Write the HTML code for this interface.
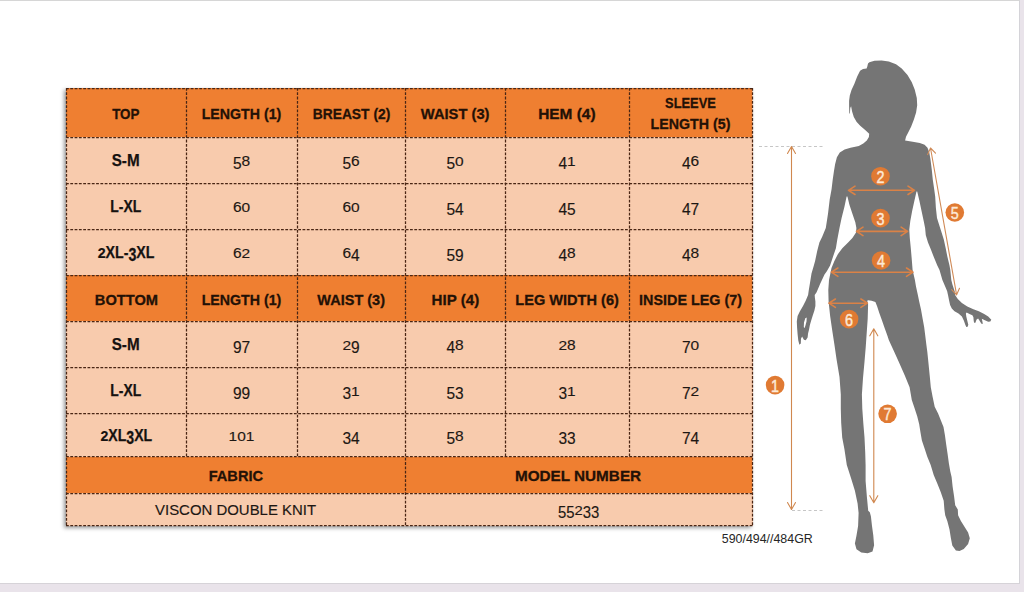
<!DOCTYPE html>
<html><head><meta charset="utf-8"><style>
html,body{margin:0;padding:0;}
body{width:1024px;height:592px;position:relative;overflow:hidden;background:#e9e3ea;font-family:"Liberation Sans",sans-serif;}
.page{position:absolute;left:0;top:0;width:1019px;height:582px;background:#fff;border-top:1px solid #d6d6d6;border-right:1px solid #d4d3d8;border-bottom:1px solid #d6d3d8;box-sizing:content-box;top:-0px;}
.shadow{position:absolute;left:66px;top:88px;width:687px;height:438px;box-shadow:-2px 2px 4px rgba(0,0,0,0.4);background:#f8cbad;}
.c{position:absolute;display:flex;align-items:center;justify-content:center;text-align:center;box-sizing:border-box;}
.c span{display:block;position:relative;top:1px;}
.c span.nos{top:0;}
.c b.ln{display:block;font-weight:bold;}
.c i{font-style:normal;display:inline-block;line-height:20px;}
.n i.dx{transform-origin:50% 15.4px;transform:scaleY(0.8);}
.n i.dd{transform-origin:50% 15.4px;transform:translateY(3.5px) scaleY(1.1);}
.lb i.dx{transform-origin:50% 15.6px;transform:scaleY(0.87);}
.lb i.dd{transform-origin:50% 15.6px;transform:translateY(3.5px) scaleY(1.1);}
.h{font-weight:bold;font-size:15.5px;color:#231106;line-height:21px;-webkit-text-stroke:0.3px #231106;}
.lb{font-weight:bold;font-size:16px;color:#161210;-webkit-text-stroke:0.25px #161210;}
.n{font-size:15.5px;color:#1d1713;-webkit-text-stroke:0.15px #1d1713;}
.v{font-size:15.5px;color:#1d1713;-webkit-text-stroke:0.15px #1d1713;}
.code{position:absolute;left:721.8px;top:531.8px;font-size:12.4px;color:#262626;white-space:nowrap;}
svg{position:absolute;left:0;top:0;}
svg text{font-family:"Liberation Sans",sans-serif;font-size:16.5px;fill:#fde9d6;stroke:#fde9d6;stroke-width:0.45px;}
</style></head><body>
<div class="page"></div>
<div class="shadow"></div>
<div class="c h" style="left:66px;top:88px;width:120px;height:49px;background:#EF7F31"><span style="transform:scaleX(0.862)">TOP</span></div><div class="c h" style="left:186px;top:88px;width:111px;height:49px;background:#EF7F31"><span style="transform:scaleX(0.915)">LENGTH (1)</span></div><div class="c h" style="left:297px;top:88px;width:108px;height:49px;background:#EF7F31"><span style="transform:scaleX(0.892)">BREAST (2)</span></div><div class="c h" style="left:405px;top:88px;width:100px;height:49px;background:#EF7F31"><span style="transform:scaleX(0.950)">WAIST (3)</span></div><div class="c h" style="left:505px;top:88px;width:124px;height:49px;background:#EF7F31"><span style="transform:scaleX(0.995)">HEM (4)</span></div><div class="c h" style="left:629px;top:88px;width:123px;height:49px;background:#EF7F31"><span class="nos"><b class="ln" style="transform:scaleX(0.83)">SLEEVE</b><b class="ln" style="transform:scaleX(0.918)">LENGTH (5)</b></span></div><div class="c lb" style="left:66px;top:137px;width:120px;height:46px;background:#F8CBAD"><span style="transform:scaleX(0.950)">S-M</span></div><div class="c n" style="left:186px;top:137px;width:111px;height:46px;background:#F8CBAD"><span><i class="dd">5</i>8</span></div><div class="c n" style="left:297px;top:137px;width:108px;height:46px;background:#F8CBAD"><span><i class="dd">5</i>6</span></div><div class="c n" style="left:405px;top:137px;width:100px;height:46px;background:#F8CBAD"><span><i class="dd">5</i><i class="dx">0</i></span></div><div class="c n" style="left:505px;top:137px;width:124px;height:46px;background:#F8CBAD"><span><i class="dd">4</i><i class="dx">1</i></span></div><div class="c n" style="left:629px;top:137px;width:123px;height:46px;background:#F8CBAD"><span><i class="dd">4</i>6</span></div><div class="c lb" style="left:66px;top:183px;width:120px;height:46px;background:#F8CBAD"><span style="transform:scaleX(0.868)">L-XL</span></div><div class="c n" style="left:186px;top:183px;width:111px;height:46px;background:#F8CBAD"><span>6<i class="dx">0</i></span></div><div class="c n" style="left:297px;top:183px;width:108px;height:46px;background:#F8CBAD"><span>6<i class="dx">0</i></span></div><div class="c n" style="left:405px;top:183px;width:100px;height:46px;background:#F8CBAD"><span><i class="dd">5</i><i class="dd">4</i></span></div><div class="c n" style="left:505px;top:183px;width:124px;height:46px;background:#F8CBAD"><span><i class="dd">4</i><i class="dd">5</i></span></div><div class="c n" style="left:629px;top:183px;width:123px;height:46px;background:#F8CBAD"><span><i class="dd">4</i><i class="dd">7</i></span></div><div class="c lb" style="left:66px;top:229px;width:120px;height:46px;background:#F8CBAD"><span style="transform:scaleX(0.886)"><i class="dx">2</i>XL-<i class="dd">3</i>XL</span></div><div class="c n" style="left:186px;top:229px;width:111px;height:46px;background:#F8CBAD"><span>6<i class="dx">2</i></span></div><div class="c n" style="left:297px;top:229px;width:108px;height:46px;background:#F8CBAD"><span>6<i class="dd">4</i></span></div><div class="c n" style="left:405px;top:229px;width:100px;height:46px;background:#F8CBAD"><span><i class="dd">5</i><i class="dd">9</i></span></div><div class="c n" style="left:505px;top:229px;width:124px;height:46px;background:#F8CBAD"><span><i class="dd">4</i>8</span></div><div class="c n" style="left:629px;top:229px;width:123px;height:46px;background:#F8CBAD"><span><i class="dd">4</i>8</span></div><div class="c h" style="left:66px;top:275px;width:120px;height:46px;background:#EF7F31"><span style="transform:scaleX(0.945)">BOTTOM</span></div><div class="c h" style="left:186px;top:275px;width:111px;height:46px;background:#EF7F31"><span style="transform:scaleX(0.916)">LENGTH (1)</span></div><div class="c h" style="left:297px;top:275px;width:108px;height:46px;background:#EF7F31"><span style="transform:scaleX(0.936)">WAIST (3)</span></div><div class="c h" style="left:405px;top:275px;width:100px;height:46px;background:#EF7F31"><span style="transform:scaleX(0.975)">HIP (4)</span></div><div class="c h" style="left:505px;top:275px;width:124px;height:46px;background:#EF7F31"><span style="transform:scaleX(0.939)">LEG WIDTH (6)</span></div><div class="c h" style="left:629px;top:275px;width:123px;height:46px;background:#EF7F31"><span style="transform:scaleX(0.926)">INSIDE LEG (7)</span></div><div class="c lb" style="left:66px;top:321px;width:120px;height:46px;background:#F8CBAD"><span style="transform:scaleX(0.950)">S-M</span></div><div class="c n" style="left:186px;top:321px;width:111px;height:46px;background:#F8CBAD"><span><i class="dd">9</i><i class="dd">7</i></span></div><div class="c n" style="left:297px;top:321px;width:108px;height:46px;background:#F8CBAD"><span><i class="dx">2</i><i class="dd">9</i></span></div><div class="c n" style="left:405px;top:321px;width:100px;height:46px;background:#F8CBAD"><span><i class="dd">4</i>8</span></div><div class="c n" style="left:505px;top:321px;width:124px;height:46px;background:#F8CBAD"><span><i class="dx">2</i>8</span></div><div class="c n" style="left:629px;top:321px;width:123px;height:46px;background:#F8CBAD"><span><i class="dd">7</i><i class="dx">0</i></span></div><div class="c lb" style="left:66px;top:367px;width:120px;height:46px;background:#F8CBAD"><span style="transform:scaleX(0.868)">L-XL</span></div><div class="c n" style="left:186px;top:367px;width:111px;height:46px;background:#F8CBAD"><span><i class="dd">9</i><i class="dd">9</i></span></div><div class="c n" style="left:297px;top:367px;width:108px;height:46px;background:#F8CBAD"><span><i class="dd">3</i><i class="dx">1</i></span></div><div class="c n" style="left:405px;top:367px;width:100px;height:46px;background:#F8CBAD"><span><i class="dd">5</i><i class="dd">3</i></span></div><div class="c n" style="left:505px;top:367px;width:124px;height:46px;background:#F8CBAD"><span><i class="dd">3</i><i class="dx">1</i></span></div><div class="c n" style="left:629px;top:367px;width:123px;height:46px;background:#F8CBAD"><span><i class="dd">7</i><i class="dx">2</i></span></div><div class="c lb" style="left:66px;top:413px;width:120px;height:43.5px;background:#F8CBAD"><span style="transform:scaleX(0.881)"><i class="dx">2</i>XL<i class="dd">3</i>XL</span></div><div class="c n" style="left:186px;top:413px;width:111px;height:43.5px;background:#F8CBAD"><span><i class="dx">1</i><i class="dx">0</i><i class="dx">1</i></span></div><div class="c n" style="left:297px;top:413px;width:108px;height:43.5px;background:#F8CBAD"><span><i class="dd">3</i><i class="dd">4</i></span></div><div class="c n" style="left:405px;top:413px;width:100px;height:43.5px;background:#F8CBAD"><span><i class="dd">5</i>8</span></div><div class="c n" style="left:505px;top:413px;width:124px;height:43.5px;background:#F8CBAD"><span><i class="dd">3</i><i class="dd">3</i></span></div><div class="c n" style="left:629px;top:413px;width:123px;height:43.5px;background:#F8CBAD"><span><i class="dd">7</i><i class="dd">4</i></span></div><div class="c h" style="left:66px;top:456.5px;width:339px;height:36.5px;background:#EF7F31"><span style="transform:scaleX(0.943)">FABRIC</span></div><div class="c h" style="left:405px;top:456.5px;width:347px;height:36.5px;background:#EF7F31"><span style="transform:scaleX(0.986)">MODEL NUMBER</span></div><div class="c v" style="left:66px;top:493px;width:339px;height:32px;background:#F8CBAD"><span style="transform:scaleX(0.964)">VISCON DOUBLE KNIT</span></div><div class="c n" style="left:405px;top:493px;width:347px;height:32px;background:#F8CBAD"><span style="transform:scaleX(0.959)"><i class="dd">5</i><i class="dd">5</i><i class="dx">2</i><i class="dd">3</i><i class="dd">3</i></span></div>
<svg width="1024" height="592" viewBox="0 0 1024 592">
<g stroke="#4a2614" stroke-width="1.25" stroke-dasharray="2.8 1.5" fill="none"><line x1="66" y1="88.5" x2="753" y2="88.5"/><line x1="66" y1="137.5" x2="753" y2="137.5"/><line x1="66" y1="183.5" x2="753" y2="183.5"/><line x1="66" y1="229.5" x2="753" y2="229.5"/><line x1="66" y1="275.5" x2="753" y2="275.5"/><line x1="66" y1="321.5" x2="753" y2="321.5"/><line x1="66" y1="367.5" x2="753" y2="367.5"/><line x1="66" y1="413.5" x2="753" y2="413.5"/><line x1="66" y1="456.5" x2="753" y2="456.5"/><line x1="66" y1="493.5" x2="753" y2="493.5"/><line x1="66" y1="525.5" x2="753" y2="525.5"/><line x1="66.5" y1="88" x2="66.5" y2="526"/><line x1="186.5" y1="88" x2="186.5" y2="457.5"/><line x1="297.5" y1="88" x2="297.5" y2="457.5"/><line x1="405.5" y1="88" x2="405.5" y2="526"/><line x1="505.5" y1="88" x2="505.5" y2="457.5"/><line x1="629.5" y1="88" x2="629.5" y2="457.5"/><line x1="752.5" y1="88" x2="752.5" y2="526"/></g>
<path d="M874.5,60.7 L881.6,60.5 L888.8,61.5 L896.0,64.3 L901.7,68.6 L907.5,75.1 L911.8,82.3 L914.7,89.5 L916.8,98.1 L917.2,105.3 L916.1,112.4 L913.9,119.6 L911.1,126.8 L908.2,132.5 L906.0,136.8 L905.1,140.6 L912.7,141.8 L919.8,143.0 L924.6,144.8 L927.5,147.7 L929.3,152.5 L930.5,159.6 L931.7,169.0 L932.8,179.7 L934.3,190.0 L935.2,196.5 L935.9,208.0 L937.0,218.0 L938.8,223.8 L941.6,232.4 L943.8,239.6 L945.7,248.2 L947.4,256.8 L949.5,265.4 L950.3,270.0 L951.3,280.0 L952.5,284.7 L954.8,291.8 L955.1,295.0 L957.8,299.1 L961.9,303.1 L967.3,306.5 L973.4,309.2 L978.8,311.2 L984.2,313.9 L988.2,316.6 L991.3,319.7 L990.3,321.4 L988.2,321.7 L984.9,320.3 L981.8,318.8 L982.5,322.0 L982.8,323.7 L981.8,324.1 L980.8,322.7 L979.1,320.0 L978.1,318.5 L976.6,319.5 L976.1,320.7 L975.4,322.7 L974.1,322.7 L973.7,320.7 L973.4,317.3 L972.4,315.3 L970.0,314.3 L966.6,312.4 L965.9,313.4 L966.3,316.6 L967.3,320.7 L968.3,324.7 L967.6,326.8 L966.3,327.1 L965.3,324.7 L963.9,320.7 L961.9,316.6 L958.5,313.6 L954.5,311.2 L951.8,308.5 L950.1,305.1 L949.1,300.4 L948.0,295.0 L947.1,291.0 L945.4,287.1 L942.4,280.0 L939.5,270.0 L937.3,265.4 L933.7,256.8 L930.9,249.6 L928.0,242.4 L925.8,235.3 L925.1,228.1 L923.7,220.9 L921.5,210.8 L919.4,200.8 L917.2,191.5 L916.5,191.5 L914.4,200.8 L912.2,210.8 L910.3,220.9 L909.3,229.5 L909.8,238.1 L910.8,248.2 L911.8,259.7 L912.6,270.0 L914.9,280.0 L916.0,286.6 L917.7,294.3 L919.3,301.9 L921.0,309.6 L922.6,318.4 L924.2,327.2 L925.3,336.0 L926.4,345.0 L927.3,351.8 L928.5,363.6 L929.7,375.5 L930.8,387.3 L932.6,396.8 L934.7,406.8 L938.1,413.5 L940.8,420.3 L943.5,427.0 L944.9,435.1 L946.2,444.6 L947.6,454.1 L948.9,463.5 L950.3,471.6 L951.6,477.0 L952.6,486.5 L954.1,496.5 L955.2,505.2 L957.8,509.5 L958.1,515.2 L960.9,520.9 L964.5,526.7 L968.1,532.4 L969.8,538.2 L968.1,543.9 L963.8,548.9 L959.5,551.1 L955.9,550.4 L952.3,545.4 L950.9,538.2 L949.5,529.6 L947.3,520.9 L945.2,515.2 L944.4,509.5 L943.7,500.8 L940.8,492.2 L937.3,483.6 L933.7,475.0 L930.7,464.9 L927.3,456.8 L924.6,448.6 L921.9,440.5 L920.5,432.4 L919.2,424.3 L917.2,416.2 L914.5,408.1 L911.8,400.0 L909.6,387.3 L904.8,375.5 L899.5,363.6 L894.2,351.8 L888.8,340.0 L887.5,336.0 L884.7,328.3 L882.0,320.6 L879.3,312.9 L877.1,306.3 L875.4,301.9 L871.6,300.8 L868.3,300.3 L867.2,300.8 L868.1,304.4 L867.7,318.7 L866.7,333.1 L865.7,347.4 L864.5,361.8 L863.0,378.0 L861.9,394.4 L862.3,408.7 L863.3,423.1 L864.5,437.4 L865.2,451.8 L865.6,465.0 L865.6,481.0 L866.9,497.1 L868.2,510.7 L869.8,512.3 L870.9,516.3 L872.0,526.0 L873.3,535.6 L874.1,545.2 L872.5,551.6 L867.7,553.3 L861.3,552.5 L856.5,549.2 L854.9,543.6 L856.5,535.6 L858.1,526.0 L858.6,513.1 L857.6,503.5 L854.9,490.7 L850.9,477.8 L846.8,465.0 L844.4,448.9 L842.2,437.4 L841.2,423.1 L840.8,408.7 L840.8,394.4 L839.5,377.0 L836.5,358.9 L834.4,344.6 L832.2,330.2 L830.1,315.8 L828.6,301.5 L828.3,290.0 L829.0,280.0 L831.5,268.0 L834.4,261.1 L838.0,253.9 L842.3,248.2 L848.1,242.4 L852.4,238.1 L856.0,232.4 L856.4,228.1 L855.3,222.3 L852.4,213.7 L849.5,205.1 L847.4,196.5 L846.6,196.5 L844.5,206.5 L841.6,218.0 L839.5,228.1 L837.3,239.6 L835.9,248.2 L833.0,256.8 L830.1,265.4 L827.0,271.0 L824.5,274.5 L820.2,283.7 L816.6,292.3 L814.7,295.0 L814.9,297.7 L815.4,301.4 L815.4,305.9 L814.4,310.5 L812.6,316.0 L811.2,320.5 L809.9,325.1 L809.0,329.7 L808.1,333.3 L807.6,337.4 L805.8,340.2 L803.9,339.7 L802.1,336.5 L801.0,338.8 L800.8,343.4 L799.4,344.7 L798.3,340.6 L797.6,334.2 L797.1,327.8 L796.8,321.5 L797.6,316.0 L799.8,311.4 L803.0,305.9 L805.8,300.5 L808.1,295.0 L808.7,290.8 L810.1,282.2 L811.5,273.6 L814.0,265.0 L815.1,261.1 L817.2,251.0 L819.4,242.4 L822.2,236.7 L825.8,228.1 L828.0,213.7 L829.7,199.4 L831.6,189.1 L832.7,179.7 L833.9,171.4 L835.1,164.3 L836.9,157.2 L839.8,152.5 L844.6,149.5 L850.5,147.7 L858.8,146.0 L863.3,143.4 L866.8,140.5 L868.9,136.9 L869.2,133.7 L866.8,131.6 L864.3,129.2 L860.2,125.8 L856.5,121.8 L853.8,117.0 L852.1,111.6 L851.1,106.2 L850.3,108.0 L849.9,113.6 L849.3,113.4 L849.1,106.0 L849.1,100.8 L849.8,95.4 L851.5,90.0 L854.4,83.7 L857.2,76.5 L860.1,70.8 L863.0,69.1 L866.6,68.6 L867.3,66.5 L868.0,63.6 L869.4,62.2 Z M803.8,326.9 L804.0,322.4 L805.3,318.3 L806.7,317.4 L806.5,321.5 L805.3,326.0 L804.4,328.3 Z" fill="#757575" fill-rule="evenodd"/>
<g stroke="#c6c6c6" stroke-width="1" stroke-dasharray="3 2.5"><line x1="759" y1="146.5" x2="824.5" y2="146.5"/><line x1="792" y1="510.5" x2="824" y2="510.5"/></g>
<path d="M848.5,190.3 L914.5,190.3 M908.0,194.5 L914.5,190.3 L908.0,186.1 M855.0,186.1 L848.5,190.3 L855.0,194.5" fill="none" stroke="#DA8247" stroke-width="1.6" stroke-linecap="round" stroke-linejoin="round"/><path d="M856.5,231.4 L907.6,231.4 M901.1,235.6 L907.6,231.4 L901.1,227.2 M863.0,227.2 L856.5,231.4 L863.0,235.6" fill="none" stroke="#DA8247" stroke-width="1.6" stroke-linecap="round" stroke-linejoin="round"/><path d="M831.4,272.2 L913.0,272.2 M906.5,276.4 L913.0,272.2 L906.5,268.0 M837.9,268.0 L831.4,272.2 L837.9,276.4" fill="none" stroke="#DA8247" stroke-width="1.6" stroke-linecap="round" stroke-linejoin="round"/><path d="M828.9,303.2 L867.4,303.2 M860.9,307.4 L867.4,303.2 L860.9,299.0 M835.4,299.0 L828.9,303.2 L835.4,307.4" fill="none" stroke="#DA8247" stroke-width="1.6" stroke-linecap="round" stroke-linejoin="round"/><path d="M930.5,148 L956.6,294.8 M951.6,289.6 L956.6,294.8 L959.5,288.2 M935.5,153.2 L930.5,148.0 L927.6,154.6" fill="none" stroke="#D08B58" stroke-width="1.1" stroke-linecap="round" stroke-linejoin="round"/><path d="M791.5,146.5 L791.5,509.5 M787.5,502.5 L791.5,509.5 L795.5,502.5 M795.5,153.5 L791.5,146.5 L787.5,153.5" fill="none" stroke="#D0884F" stroke-width="1.1" stroke-linecap="round" stroke-linejoin="round"/><path d="M873.8,328.8 L873.8,502.7 M869.8,495.7 L873.8,502.7 L877.8,495.7 M877.8,335.8 L873.8,328.8 L869.8,335.8" fill="none" stroke="#D0884F" stroke-width="1.1" stroke-linecap="round" stroke-linejoin="round"/>
<circle cx="775.1" cy="385.1" r="9.3" fill="#E07A33"/><text x="775.1" y="391.6" text-anchor="middle" transform="matrix(0.87 0 0 1 100.76 0)">1</text><circle cx="880.5" cy="176.2" r="9.3" fill="#E07A33"/><text x="880.5" y="182.7" text-anchor="middle" transform="matrix(0.87 0 0 1 114.47 0)">2</text><circle cx="880.5" cy="218.1" r="9.3" fill="#E07A33"/><text x="880.5" y="224.6" text-anchor="middle" transform="matrix(0.87 0 0 1 114.47 0)">3</text><circle cx="881.1" cy="260.5" r="9.3" fill="#E07A33"/><text x="881.1" y="267.0" text-anchor="middle" transform="matrix(0.87 0 0 1 114.54 0)">4</text><circle cx="954.8" cy="212.5" r="9.3" fill="#E07A33"/><text x="954.8" y="219.0" text-anchor="middle" transform="matrix(0.87 0 0 1 124.12 0)">5</text><circle cx="849.1" cy="319.1" r="9.3" fill="#E07A33"/><text x="849.1" y="325.6" text-anchor="middle" transform="matrix(0.87 0 0 1 110.38 0)">6</text><circle cx="887.6" cy="413.8" r="9.3" fill="#E07A33"/><text x="887.6" y="420.3" text-anchor="middle" transform="matrix(0.87 0 0 1 115.39 0)">7</text>
</svg>
<div class="code">590/494//484GR</div>
</body></html>
